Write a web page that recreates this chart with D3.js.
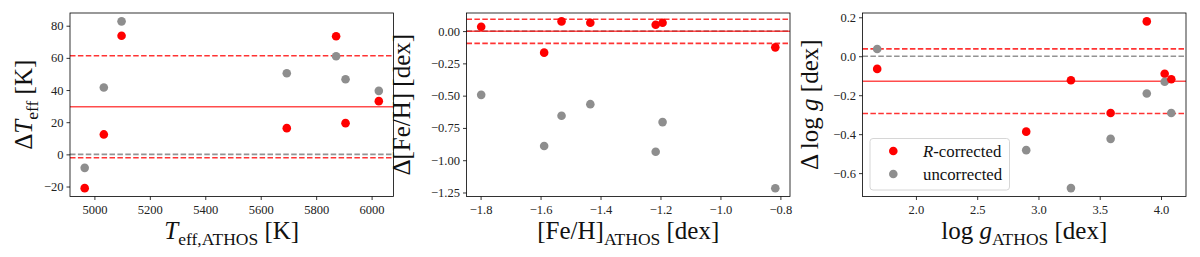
<!DOCTYPE html>
<html>
<head>
<meta charset="utf-8">
<script src="https://cdn.jsdelivr.net/npm/d3@7"></script>
<style>
  html, body { margin: 0; padding: 0; background: #ffffff; }
  svg { display: block; }
  text { font-family: "Liberation Serif", "DejaVu Serif", serif; }
</style>
</head>
<body>
<svg id="chart" width="1200" height="257"></svg>
<script>
// ---------- data ----------
const teffX    = [4965, 5034, 5098, 5694, 5872, 5906, 6026];
const teffRed  = [-21.0, 12.4, 73.8, 16.3, 73.4, 19.4, 33.1];
const teffGray = [-8.4, 41.6, 82.7, 50.4, 61.0, 46.7, 39.5];
const teffStats = [29.6, 61.3, -2.1];          // mean, upper, lower (R-corrected)

const fehX    = [-1.798, -1.588, -1.530, -1.434, -1.216, -1.193, -0.817];
const fehRed  = [0.033, -0.167, 0.075, 0.064, 0.049, 0.064, -0.126];
const fehGray = [-0.494, -0.890, -0.656, -0.566, -0.934, -0.705, -1.217];
const fehStats = [-0.001, 0.092, -0.095];

const loggX    = [1.684, 2.900, 3.265, 3.589, 3.884, 4.030, 4.084];
const loggRed  = [-0.065, -0.387, -0.123, -0.291, 0.179, -0.090, -0.118];
const loggGray = [0.0375, -0.482, -0.677, -0.424, -0.191, -0.131, -0.291];
const loggStats = [-0.128, 0.038, -0.294];

const teffXTicks = [5000, 5200, 5400, 5600, 5800, 6000];
const teffYTicks = [-20, 0, 20, 40, 60, 80];
const fehXTicks  = [-1.8, -1.6, -1.4, -1.2, -1.0, -0.8];
const fehYTicks  = [0, -0.25, -0.5, -0.75, -1.0, -1.25];
const loggXTicks = [2.0, 2.5, 3.0, 3.5, 4.0];
const loggYTicks = [0.2, 0.0, -0.2, -0.4, -0.6];

const legendLabels = ["R-corrected", "uncorrected"];

// ---------- layout ----------
const svg = d3.select("#chart");
const TOP = 13, BOTTOM = 196.5, W = 323.5;
const RED = "#ff0000", GRAY = "#8e8e8e";
const SERIF = "'Liberation Serif', 'DejaVu Serif', serif";

const panels = [
  { left: 70, xd: [4912, 6079], yd: [-26.2, 87.9], x: teffX, r: teffRed, g: teffGray, stats: teffStats,
    xt: teffXTicks, yt: teffYTicks, fx: d3.format("d"), fy: d3.format("d"), ylabX: 32,
    ylab: [{t:"Δ"},{t:"T",i:1},{t:"eff",s:1},{t:" [K]"}],
    xlab: [{t:"T",i:1},{t:"eff,ATHOS",s:1},{t:" [K]"}] },
  { left: 466.5, xd: [-1.847, -0.768], yd: [-1.281, 0.140], x: fehX, r: fehRed, g: fehGray, stats: fehStats,
    xt: fehXTicks, yt: fehYTicks, fx: d3.format(".1f"), fy: d3.format(".2f"), ylabX: 410,
    ylab: [{t:"Δ[Fe/H] [dex]"}],
    xlab: [{t:"[Fe/H]"},{t:"ATHOS",s:1},{t:" [dex]"}] },
  { left: 862.5, xd: [1.564, 4.204], yd: [-0.720, 0.222], x: loggX, r: loggRed, g: loggGray, stats: loggStats,
    xt: loggXTicks, yt: loggYTicks, fx: d3.format(".1f"), fy: d3.format(".1f"), ylabX: 818, legend: true,
    ylab: [{t:"Δ log "},{t:"g",i:1},{t:" [dex]"}],
    xlab: [{t:"log "},{t:"g",i:1},{t:"ATHOS",s:1},{t:" [dex]"}] }
];

function richText(sel, parts, size) {
  const sub = size * 0.7, shift = size * 0.22;
  let down = false;
  parts.forEach(p => {
    const ts = sel.append("tspan").text(p.t);
    if (p.i) ts.attr("font-style", "italic");
    if (p.s) { ts.attr("font-size", sub).attr("dy", shift); down = true; }
    else if (down) { ts.attr("dy", -shift); down = false; }
  });
}

panels.forEach((p, k) => {
  const x = d3.scaleLinear().domain(p.xd).range([p.left, p.left + W]);
  const y = d3.scaleLinear().domain(p.yd).range([BOTTOM, TOP]);
  const g = svg.append("g");

  // reference lines
  const hl = (v, color, dash, op) => g.append("line")
    .attr("x1", p.left).attr("x2", p.left + W)
    .attr("y1", y(v)).attr("y2", y(v))
    .attr("stroke", color).attr("stroke-width", 1.6).attr("stroke-opacity", op)
    .attr("stroke-dasharray", dash);
  hl(0, "#808080", "5.5,2.4", 0.85);
  hl(p.stats[1], RED, "5.5,2.4", 0.8);
  hl(p.stats[2], RED, "5.5,2.4", 0.8);
  hl(p.stats[0], RED, null, 0.7);

  // points: for each star red then gray
  const clip = "clip" + k;
  svg.append("clipPath").attr("id", clip).append("rect")
    .attr("x", p.left).attr("y", TOP).attr("width", W).attr("height", BOTTOM - TOP);
  const pts = g.append("g").attr("clip-path", "url(#" + clip + ")");
  p.x.forEach((xv, i) => {
    pts.append("circle").attr("cx", x(xv)).attr("cy", y(p.r[i])).attr("r", 4.3).attr("fill", RED);
    pts.append("circle").attr("cx", x(xv)).attr("cy", y(p.g[i])).attr("r", 4.3).attr("fill", GRAY);
  });

  // axes
  const ax = g.append("g").attr("transform", `translate(0,${BOTTOM})`)
    .call(d3.axisBottom(x).tickValues(p.xt).tickFormat(p.fx).tickSize(3.5).tickPadding(5));
  const ay = g.append("g").attr("transform", `translate(${p.left},0)`)
    .call(d3.axisLeft(y).tickValues(p.yt).tickFormat(p.fy).tickSize(3.5).tickPadding(3));
  [ax, ay].forEach(a => {
    a.attr("font-family", SERIF);
    a.select(".domain").remove();
    a.selectAll(".tick line").attr("stroke", "#000").attr("stroke-width", 0.8);
    a.selectAll(".tick text").attr("fill", "#222").attr("font-size", 12.5);
  });

  // frame
  g.append("rect").attr("x", p.left).attr("y", TOP).attr("width", W).attr("height", BOTTOM - TOP)
    .attr("fill", "none").attr("stroke", "#000").attr("stroke-width", 0.8);

  // labels
  const xl = g.append("text").attr("x", p.left + W / 2).attr("y", 239)
    .attr("text-anchor", "middle").attr("font-size", 25).attr("fill", "#111");
  richText(xl, p.xlab, 25);
  const yl = g.append("text").attr("transform", `translate(${p.ylabX},${(TOP + BOTTOM) / 2}) rotate(-90)`)
    .attr("text-anchor", "middle").attr("font-size", 25).attr("fill", "#111");
  richText(yl, p.ylab, 25);

  // legend
  if (p.legend) {
    const lg = g.append("g");
    lg.append("rect").attr("x", 870).attr("y", 138.5).attr("width", 139.5).attr("height", 51.5)
      .attr("rx", 3).attr("fill", "#fff").attr("fill-opacity", 0.8).attr("stroke", "#cccccc").attr("stroke-width", 0.8);
    [RED, GRAY].forEach((c, i) => {
      const yy = 151 + i * 23;
      lg.append("circle").attr("cx", 893.3).attr("cy", yy).attr("r", 4.3).attr("fill", c);
      const t = lg.append("text").attr("x", 923).attr("y", yy + 6).attr("font-size", 16.8).attr("fill", "#111");
      if (i === 0) {
        t.append("tspan").attr("font-style", "italic").text(legendLabels[0].slice(0, 1));
        t.append("tspan").text(legendLabels[0].slice(1));
      } else {
        t.text(legendLabels[1]);
      }
    });
  }
});
</script>
</body>
</html>
